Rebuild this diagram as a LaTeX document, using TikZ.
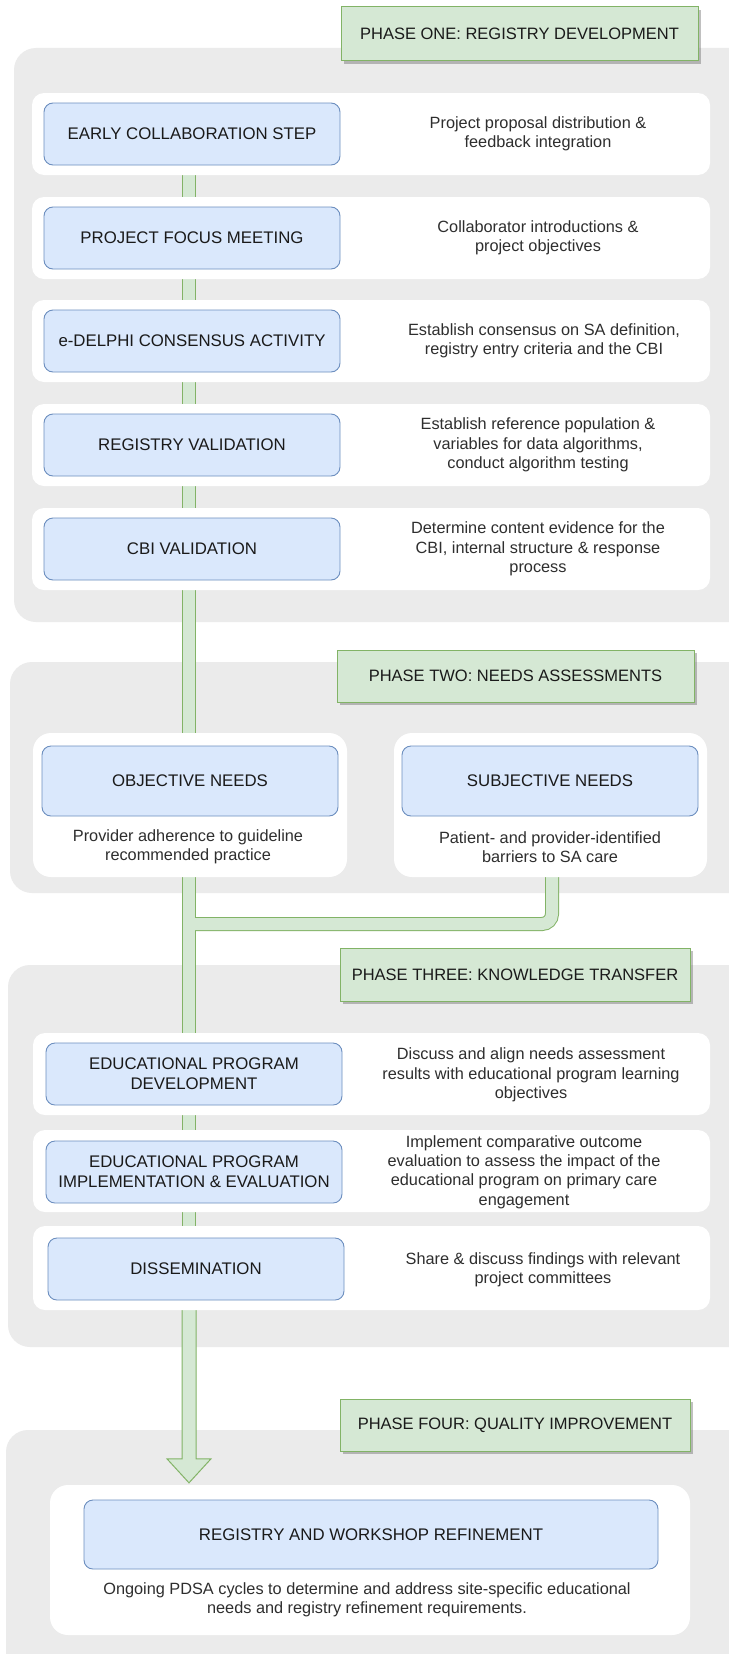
\documentclass[tikz,border=0pt]{standalone}
\usepackage{fontspec}
\setmainfont{Liberation Sans}
\usetikzlibrary{calc,shadows}
\definecolor{panelgray}{HTML}{EBEBEB}
\definecolor{boxfill}{HTML}{DAE8FC}
\definecolor{boxline}{HTML}{6C8EBF}
\definecolor{hdrfill}{HTML}{D5E8D4}
\definecolor{hdrline}{HTML}{82B366}
\definecolor{txtcol}{HTML}{1A1A1A}
\definecolor{desccol}{HTML}{2E2E2E}
\pgfdeclarelayer{bg}
\pgfdeclarelayer{conn}
\pgfdeclarelayer{band}
\pgfsetlayers{bg,conn,band,main}
\newcommand{\fboxtxt}{\fontsize{16.8}{19.6}\selectfont}
\newcommand{\fhdrtxt}{\fontsize{16.5}{19.4}\selectfont}
\newcommand{\fdesctxt}{\fontsize{16.3}{19.4}\selectfont}
\tikzset{
  panel/.style={fill=panelgray, rounded corners=22pt},
  bandbox/.style={fill=white, rounded corners=12pt, inner sep=0pt},
  cardbox/.style={fill=white, rounded corners=18pt, inner sep=0pt},
  stepbox/.style={draw=boxline, fill=boxfill, rounded corners=9pt, line width=0.9pt,
    align=center, text=txtcol, font=\fboxtxt, inner sep=0pt},
  header/.style={draw=hdrline, fill=hdrfill, line width=1pt, text=txtcol, font=\fhdrtxt,
    inner sep=0pt, drop shadow={shadow xshift=3pt, shadow yshift=-3pt, opacity=0.35, fill=black!70}},
  desc/.style={align=center, text=desccol, font=\fdesctxt, inner sep=0pt},
  conn/.style={draw=hdrline, double=hdrfill, double distance=12pt, line width=1pt},
  arrowshape/.style={draw=hdrline, fill=hdrfill, line width=1pt, line join=miter},
}
\begin{document}
\begin{tikzpicture}[x=1pt, y=-1pt]
\useasboundingbox (0,0) rectangle (728,1654);
\clip (0,0) rectangle (728,1654);
\coordinate (spine) at (189,0);

% ---------------- panels
\begin{pgfonlayer}{bg}
  \fill[white] (0,0) rectangle (728,1654);
  \fill[panel] (14,48) rectangle (770,622);
  \fill[panel] (10,662) rectangle (770,893);
  \fill[panel] (8,965) rectangle (770,1347);
  \fill[panel] (6,1430) rectangle (770,1720);
\end{pgfonlayer}

% ---------------- PHASE ONE
\node[header, minimum width=357pt, minimum height=54pt] (h1) at (519.5,34) {PHASE ONE: REGISTRY DEVELOPMENT};
\begin{pgfonlayer}{band}
  \node[bandbox, minimum width=678pt, minimum height=82pt] (r1) at (371,134) {};
  \node[bandbox, minimum width=678pt, minimum height=82pt] (r2) at (371,238) {};
  \node[bandbox, minimum width=678pt, minimum height=82pt] (r3) at (371,341) {};
  \node[bandbox, minimum width=678pt, minimum height=82pt] (r4) at (371,445) {};
  \node[bandbox, minimum width=678pt, minimum height=82pt] (r5) at (371,549) {};
\end{pgfonlayer}
\node[stepbox, minimum width=296pt, minimum height=62pt] (b1) at (192,134) {EARLY COLLABORATION STEP};
\node[stepbox, minimum width=296pt, minimum height=62pt] (b2) at (192,238) {PROJECT FOCUS MEETING};
\node[stepbox, minimum width=296pt, minimum height=62pt] (b3) at (192,341) {e-DELPHI CONSENSUS ACTIVITY};
\node[stepbox, minimum width=296pt, minimum height=62pt] (b4) at (192,445) {REGISTRY VALIDATION};
\node[stepbox, minimum width=296pt, minimum height=62pt] (b5) at (192,549) {CBI VALIDATION};
\node[desc] (d1) at (538,134) {Project proposal distribution \&\\feedback integration};
\node[desc] (d2) at (538,238) {Collaborator introductions \&\\project objectives};
\node[desc] (d3) at (544,341) {Establish consensus on SA definition,\\registry entry criteria and the CBI};
\node[desc] (d4) at (538,445) {Establish reference population \&\\variables for data algorithms,\\conduct algorithm testing};
\node[desc] (d5) at (538,549) {Determine content evidence for the\\CBI, internal structure \& response\\process};

% ---------------- PHASE TWO
\node[header, minimum width=357pt, minimum height=52pt] (h2) at (515.5,676) {PHASE TWO: NEEDS ASSESSMENTS};
\begin{pgfonlayer}{band}
  \node[cardbox, minimum width=314pt, minimum height=144pt] (cobj) at (190,805) {};
  \node[cardbox, minimum width=313pt, minimum height=144pt] (csubj) at (550.5,805) {};
\end{pgfonlayer}
\node[stepbox, minimum width=296pt, minimum height=70pt] (obj) at (190,781) {OBJECTIVE NEEDS};
\node[stepbox, minimum width=296pt, minimum height=70pt] (subj) at (550,781) {SUBJECTIVE NEEDS};
\node[desc] (dobj) at (188,847) {Provider adherence to guideline\\recommended practice};
\node[desc] (dsubj) at (550,847) {Patient- and provider-identified\\barriers to SA care};

% ---------------- PHASE THREE
\node[header, minimum width=350pt, minimum height=53pt] (h3) at (515,974.5) {PHASE THREE: KNOWLEDGE TRANSFER};
\begin{pgfonlayer}{band}
  \node[bandbox, minimum width=677pt, minimum height=82pt] (s1) at (371.5,1074) {};
  \node[bandbox, minimum width=677pt, minimum height=82pt] (s2) at (371.5,1171) {};
  \node[bandbox, minimum width=677pt, minimum height=84pt] (s3) at (371.5,1268) {};
\end{pgfonlayer}
\node[stepbox, minimum width=296pt, minimum height=62pt] (e1) at (194,1074) {EDUCATIONAL PROGRAM\\DEVELOPMENT};
\node[stepbox, minimum width=296pt, minimum height=62pt] (e2) at (194,1172) {EDUCATIONAL PROGRAM\\IMPLEMENTATION \& EVALUATION};
\node[stepbox, minimum width=296pt, minimum height=62pt] (e3) at (196,1269) {DISSEMINATION};
\node[desc] (f1) at (531,1075) {Discuss and align needs assessment\\results with educational program learning\\objectives};
\node[desc] (f2) at (524,1172) {Implement comparative outcome\\evaluation to assess the impact of the\\educational program on primary care\\engagement};
\node[desc] (f3) at (543,1270) {Share \& discuss findings with relevant\\project committees};

% ---------------- PHASE FOUR
\node[header, minimum width=350pt, minimum height=52pt] (h4) at (515,1425) {PHASE FOUR: QUALITY IMPROVEMENT};
\begin{pgfonlayer}{band}
  \node[cardbox, minimum width=640pt, minimum height=150pt] (refcard) at (370,1560) {};
\end{pgfonlayer}
\node[stepbox, minimum width=574pt, minimum height=69pt] (refbox) at (371,1534.5) {REGISTRY AND WORKSHOP REFINEMENT};
\node[desc] (drf) at (367,1600) {Ongoing PDSA cycles to determine and address site-specific educational\\needs and registry refinement requirements.};

% ---------------- connectors
\coordinate (jn) at (189,924);
\coordinate (atip) at (spine |- refcard.north);
\begin{pgfonlayer}{conn}
  \draw[conn] (spine |- b1.south) -- (spine |- b2.north);
  \draw[conn] (spine |- b2.south) -- (spine |- b3.north);
  \draw[conn] (spine |- b3.south) -- (spine |- b4.north);
  \draw[conn] (spine |- b4.south) -- (spine |- b5.north);
  \draw[conn] (spine |- b5.south) -- (spine |- obj.north);
  \draw[conn] (spine |- obj.south) -- (spine |- e1.north);
  \draw[conn, rounded corners=10pt] ([xshift=2pt]subj.south) |- (jn);
  \draw[line width=12pt, hdrfill] ($(jn)+(0,-8)$) -- ($(jn)+(0,8)$);
  \draw[conn] (spine |- e1.south) -- (spine |- e2.north);
  \draw[conn] (spine |- e2.south) -- (spine |- e3.north);
  \draw[arrowshape] ($(spine |- e3.south)+(-7,0)$) -- ($(atip)+(-7,-26)$)
     -- ($(atip)+(-22,-26)$) -- ($(atip)+(0,-2)$) -- ($(atip)+(22,-26)$)
     -- ($(atip)+(7,-26)$) -- ($(spine |- e3.south)+(7,0)$) -- cycle;
\end{pgfonlayer}
\end{tikzpicture}
\end{document}
